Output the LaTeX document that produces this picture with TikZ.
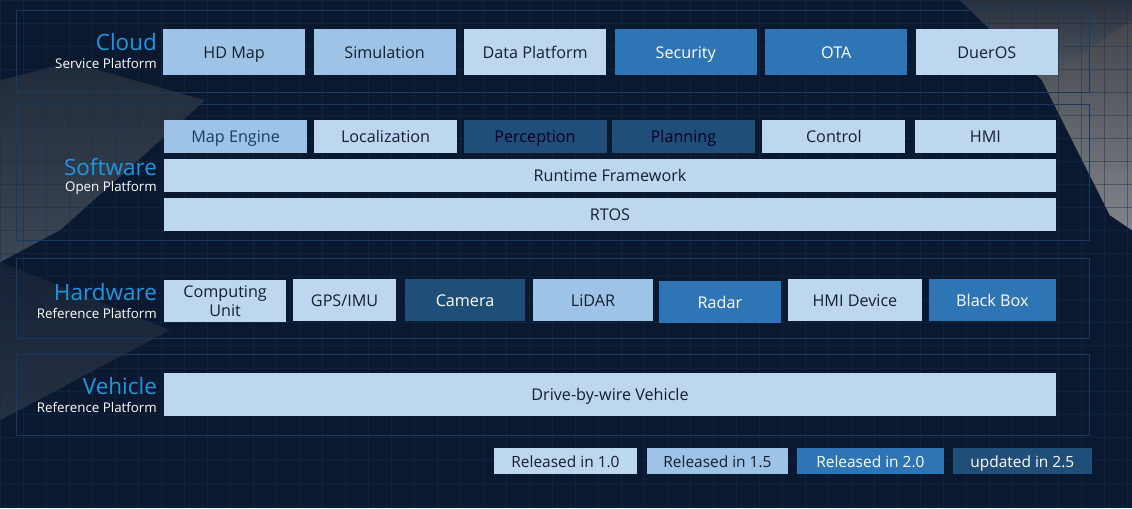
\documentclass[tikz,border=0pt]{standalone}
\usepackage{fontspec}
\setmainfont{Open Sans}
\usetikzlibrary{positioning}
\definecolor{bgnavy}{HTML}{0A1930}
\definecolor{gridline}{HTML}{14304F}
\definecolor{framecol}{HTML}{173A5E}
\definecolor{relA}{HTML}{BDD7EE}
\definecolor{relB}{HTML}{9DC3E6}
\definecolor{relC}{HTML}{2E75B6}
\definecolor{relD}{HTML}{1F4E79}
\definecolor{layerblue}{HTML}{1E96E0}
\definecolor{darktext}{HTML}{15202E}
\definecolor{shade}{HTML}{3F6387}

\begin{document}
\begin{tikzpicture}[x=0.025cm,y=-0.025cm,
  modbase/.style={inner sep=0pt,align=center,font=\fontsize{11.5}{12.5}\selectfont},
  mod/.style={modbase,text height=1.8ex,text depth=.2ex},
  rA/.style={fill=relA,text=darktext},
  rB/.style={fill=relB,text=darktext},
  rC/.style={fill=relC,text=white},
  rD/.style={fill=relD,text=white},
  cloudbox/.style={mod,minimum width=3.55cm,minimum height=1.15cm},
  swbox/.style={mod,minimum width=3.575cm,minimum height=0.825cm},
  hwbox/.style={mod,minimum height=1.05cm},
  legbox/.style={mod,minimum height=0.65cm,font=\fontsize{11}{12}\selectfont},
  layer/.style={anchor=east,inner sep=0pt,text=layerblue,font=\fontsize{16}{18}\selectfont},
  sub/.style={anchor=east,inner sep=0pt,text=white,font=\fontsize{9.5}{11}\selectfont},
  frame/.style={draw=framecol,line width=0.5pt}]
% background
\fill[bgnavy] (0,0) rectangle (1132,508);
\fill[shade,opacity=0.22] (0,80)--(70,62)--(205,100)--(60,230)--(0,262)--cycle;
\fill[shade,opacity=0.12] (0,262)--(170,330)--(0,420)--cycle;
\fill[shade,opacity=0.5] (1042,80)--(1132,20)--(1132,230)--(1110,215)--cycle;
\fill[shade,opacity=0.3] (960,0)--(1132,0)--(1132,20)--(1042,80)--cycle;
\foreach \gx in {0,23,...,1132} \draw[gridline,line width=0.3pt,opacity=0.45] (\gx,0)--(\gx,508);
\foreach \gy in {0,23,...,508} \draw[gridline,line width=0.3pt,opacity=0.45] (0,\gy)--(1132,\gy);
\draw[frame] (16,10) rectangle (1090,92);
\draw[frame] (16,104) rectangle (1090,240);
\draw[frame] (16,258) rectangle (1090,338);
\draw[frame] (16,354) rectangle (1090,435);

% cloud
\node[layer] (cloud) at (157,42) {Cloud};
\node[sub] (cloudsub) at (157,63) {Service Platform};
\node[rB,cloudbox] (hdmap) at (234,52) {HD Map};
\node[rB,cloudbox,right=0.2cm of hdmap] (sim) {Simulation};
\node[rA,cloudbox,right=0.2cm of sim] (data) {Data Platform};
\node[rC,cloudbox,right=0.2cm of data] (sec) {Security};
\node[rC,cloudbox,right=0.2cm of sec] (ota) {OTA};
\node[rA,cloudbox,right=0.2cm of ota] (duer) {DuerOS};

% software
\node[layer] (soft) at (157,167) {Software};
\node[sub] (softsub) at (157,188) {Open Platform};
\node[rB,swbox,text=relD!80!black] (mapeng) at (235.5,136.5) {Map Engine};
\node[rA,swbox] (loc) at (385.5,136.5) {Localization};
\node[rD,swbox,text=black!85!blue] (perc) at (535,136.5) {Perception};
\node[rD,swbox,text=black!85!blue] (plan) at (683.5,136.5) {Planning};
\node[rA,swbox] (ctrl) at (834,136.5) {Control};
\node[rA,swbox,minimum width=3.525cm] (hmi) at (985.5,136.5) {HMI};
\node[rA,mod,minimum width=22.3cm,minimum height=0.825cm] (runtime) at (610,175.5) {Runtime Framework};
\node[rA,mod,minimum width=22.3cm,minimum height=0.825cm] (rtos) at (610,214.5) {RTOS};

% hardware
\node[layer] (hard) at (157,292) {Hardware};
\node[sub] (hardsub) at (157,313) {Reference Platform};
\node[rA,modbase,minimum height=1.05cm,minimum width=3.05cm,font=\fontsize{11.5}{13}\selectfont] (comp) at (225,301) {Computing\\Unit};
\node[rA,hwbox,minimum width=2.575cm] (gps) at (344.5,300) {GPS/IMU};
\node[rD,hwbox,minimum width=3.0cm] (cam) at (465,300) {Camera};
\node[rB,hwbox,minimum width=3.0cm] (lidar) at (593,300) {LiDAR};
\node[rC,hwbox,minimum width=3.05cm] (radar) at (720,302) {Radar};
\node[rA,hwbox,minimum width=3.35cm] (hmidev) at (855,300) {HMI Device};
\node[rC,hwbox,minimum width=3.175cm] (bbox) at (992.5,300) {Black Box};

% vehicle
\node[layer] (veh) at (157,386) {Vehicle};
\node[sub] (vehsub) at (157,407) {Reference Platform};
\node[rA,mod,minimum width=22.3cm,minimum height=1.075cm] (dbw) at (610,394.5) {Drive-by-wire Vehicle};

% legend
\node[rA,legbox,minimum width=3.575cm] (leg10) at (565.5,461) {Released in 1.0};
\node[rB,legbox,minimum width=3.525cm] (leg15) at (717.5,461) {Released in 1.5};
\node[rC,legbox,minimum width=3.675cm] (leg20) at (870.5,461) {Released in 2.0};
\node[rD,legbox,minimum width=3.475cm] (leg25) at (1022.5,461) {updated in 2.5};
\end{tikzpicture}
\end{document}
